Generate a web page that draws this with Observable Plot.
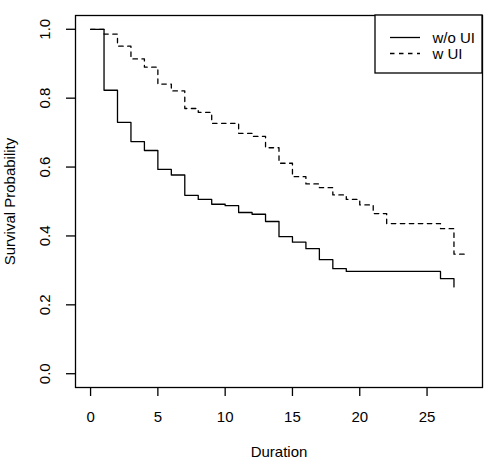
<!DOCTYPE html>
<html><head><meta charset="utf-8">
<script src="https://cdn.jsdelivr.net/npm/d3@7"></script>
<script src="https://cdn.jsdelivr.net/npm/@observablehq/plot@0.6"></script>
<style>
body{margin:0;background:#fff}
svg{font-family:"Liberation Sans",Arial,sans-serif}
</style>
</head><body><div id="chart"></div>
<script>
// Kaplan-Meier step data
const timesNoUI = [0, 1, 2, 3, 4, 5, 6, 7, 8, 9, 10, 11, 12, 13, 14, 15, 16, 17, 18, 19, 26, 27];
const survNoUI  = [1.0, 0.823, 0.730, 0.674, 0.648, 0.593, 0.577, 0.518, 0.506, 0.492, 0.488, 0.468, 0.463, 0.442, 0.398, 0.382, 0.363, 0.331, 0.305, 0.297, 0.276, 0.252];
const timesUI   = [0, 1, 2, 3, 4, 5, 6, 7, 8, 9, 11, 12, 13, 14, 15, 16, 17, 18, 19, 20, 21, 22, 26, 27, 28];
const survUI    = [1.0, 0.986, 0.951, 0.914, 0.890, 0.841, 0.821, 0.770, 0.759, 0.727, 0.698, 0.689, 0.656, 0.611, 0.572, 0.551, 0.540, 0.519, 0.506, 0.490, 0.465, 0.436, 0.421, 0.347, 0.347];
const xTicks = [0, 5, 10, 15, 20, 25];
const yTicks = [0.0, 0.2, 0.4, 0.6, 0.8, 1.0];
const seriesNames = ["w/o UI", "w UI"];
const xLabel = "Duration";
const yLabel = "Survival Probability";

const noUI = timesNoUI.map((t, i) => ({t, s: survNoUI[i]}));
const wUI = timesUI.map((t, i) => ({t, s: survUI[i]}));

const W = 491, H = 467, ML = 75, MR = 9, MT = 15, MB = 80;
const dash = "4.5,4.5";
const sw = 1.3;

const chart = Plot.plot({
  width: W, height: H,
  marginLeft: ML, marginRight: MR, marginTop: MT, marginBottom: MB,
  style: {background: "white", color: "black", fontFamily: '"Liberation Sans", Arial, sans-serif', fontSize: "15px"},
  x: {domain: [-1.12, 29.12]},
  y: {domain: [-0.04, 1.04]},
  marks: [
    Plot.axisX(xTicks, {tickSize: 9, tickPadding: 15, fontSize: 15, strokeWidth: sw, label: null}),
    Plot.axisY(yTicks, {tickSize: 9, tickPadding: 21, fontSize: 15, strokeWidth: sw, label: null,
      tickRotate: -90, textAnchor: "middle", lineAnchor: "middle", tickFormat: d => d.toFixed(1)}),
    Plot.frame({stroke: "black", strokeWidth: sw}),
    Plot.line(noUI, {x: "t", y: "s", curve: "step-after", stroke: "black", strokeWidth: sw}),
    Plot.line(wUI, {x: "t", y: "s", curve: "step-after", stroke: "black", strokeWidth: sw, strokeDasharray: dash}),
    Plot.text([xLabel], {frameAnchor: "bottom", dy: 69, fontSize: 15, lineAnchor: "bottom", text: d => d}),
    Plot.text([yLabel], {frameAnchor: "left", dx: -61, rotate: -90, fontSize: 15, lineAnchor: "bottom", textAnchor: "middle", text: d => d})
  ]
});

// legend in the top-right corner of the plot area
const svg = d3.select(chart);
const right = W - MR;
const lg = svg.append("g").attr("font-size", 15).attr("text-anchor", "start")
  .attr("font-family", '"Liberation Sans", Arial, sans-serif');
lg.append("rect").attr("x", right - 107).attr("y", MT).attr("width", 107).attr("height", 58)
  .attr("fill", "white").attr("stroke", "black").attr("stroke-width", sw);
seriesNames.forEach((name, i) => {
  const yy = MT + 22.5 + i * 16;
  lg.append("line").attr("x1", right - 92).attr("x2", right - 62).attr("y1", yy).attr("y2", yy)
    .attr("stroke", "black").attr("stroke-width", sw).attr("stroke-dasharray", i === 1 ? dash : null);
  lg.append("text").attr("x", right - 49.5).attr("y", yy).attr("dy", "0.35em")
    .attr("text-anchor", "start").attr("fill", "black").text(name);
});

document.getElementById("chart").appendChild(chart);
</script>
</body></html>
